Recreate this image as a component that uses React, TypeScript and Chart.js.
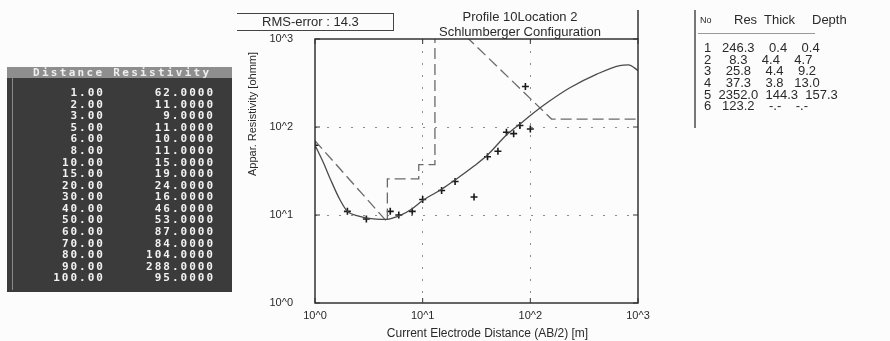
import { useEffect, useRef } from "react";
import { Chart, registerables } from "chart.js";

Chart.register(...registerables);

// Field measurements: half electrode spacing AB/2 [m] and apparent resistivity [ohm m]
const distances = [1, 2, 3, 5, 6, 8, 10, 15, 20, 30, 40, 50, 60, 70, 80, 90, 100];
const resistivities = [62, 11, 9, 11, 10, 11, 15, 19, 24, 16, 46, 53, 87, 84, 104, 288, 95];

// Computed apparent-resistivity curve of the fitted model
const modelAB2 = [1, 1.2, 1.4, 1.7, 2, 2.5, 3, 3.7, 4.6, 5.5, 6.2, 8, 10, 15, 20, 30, 40, 60, 80, 100, 142, 233, 415, 677, 815, 1000];
const modelRho = [62, 39, 25, 15, 11, 9.8, 9.3, 9.0, 8.9, 9.4, 9.9, 11.8, 14.6, 19.6, 25, 36, 48, 81, 108, 135, 187, 279, 399, 499, 508, 440];

// Layered earth model
const layerNo = [1, 2, 3, 4, 5, 6];
const layerRes = [246.3, 8.3, 25.8, 37.3, 2352.0, 123.2];
const layerThick = [0.4, 4.4, 4.4, 3.8, 144.3];
const layerDepth = [0.4, 4.7, 9.2, 13.0, 157.3];

const rmsError = 14.3;
const titleLines = ["Profile 10Location 2", "Schlumberger Configuration"];
const decadeTicks = [1, 10, 100, 1000];
const xTitle = "Current Electrode Distance (AB/2) [m]";
const yTitle = "Appar. Resistivity [ohmm]";

const SANS = '"Liberation Sans", Arial, sans-serif';
const INK = "#2a2a2a";

// Model outline as drawn by the inversion program
const modelSteps = [
  { x: layerDepth[0], y: layerRes[0] },
  { x: layerDepth[1], y: layerRes[1] },
  { x: layerDepth[1], y: layerRes[2] },
  { x: layerDepth[2], y: layerRes[2] },
  { x: layerDepth[2], y: layerRes[3] },
  { x: layerDepth[3], y: layerRes[3] },
  { x: layerDepth[3], y: layerRes[4] },
  { x: layerDepth[4], y: layerRes[5] },
  { x: decadeTicks[decadeTicks.length - 1], y: layerRes[5] },
];

const framePlugin = {
  id: "frame",
  afterDraw(chart: any) {
    const { ctx, chartArea: a, scales } = chart;
    ctx.save();
    ctx.strokeStyle = "#333";
    ctx.lineWidth = 1.5;
    ctx.strokeRect(a.left, a.top, a.right - a.left, a.bottom - a.top);
    ctx.beginPath();
    ctx.moveTo(a.right, 10);
    ctx.lineTo(a.right, a.top);
    ctx.stroke();

    ctx.lineWidth = 1;
    ctx.beginPath();
    decadeTicks.forEach((v) => {
      const x = scales.x.getPixelForValue(v);
      const y = scales.y.getPixelForValue(v);
      ctx.moveTo(x, a.bottom);
      ctx.lineTo(x, a.bottom - 5);
      ctx.moveTo(x, a.top);
      ctx.lineTo(x, a.top + 5);
      ctx.moveTo(a.left, y);
      ctx.lineTo(a.left + 5, y);
      ctx.moveTo(a.right, y);
      ctx.lineTo(a.right - 5, y);
    });
    ctx.stroke();

    ctx.fillStyle = INK;
    ctx.font = `12px ${SANS}`;
    ctx.textAlign = "center";
    ctx.textBaseline = "middle";
    ctx.fillText(xTitle, (a.left + a.right) / 2 + 11, 334);
    ctx.translate(a.left - 62, 114);
    ctx.rotate(-Math.PI / 2);
    ctx.font = `11px ${SANS}`;
    ctx.fillText(yTitle, 0, 0);
    ctx.restore();
  },
};

const expLabel = (v: any) => "10^" + Math.round(Math.log10(Number(v)));

function ResistivityChart() {
  const ref = useRef<HTMLCanvasElement | null>(null);

  useEffect(() => {
    if (!ref.current) return;
    const gridColor = (c: any) =>
      c.tick && (c.tick.value === decadeTicks[0] || c.tick.value === decadeTicks[decadeTicks.length - 1])
        ? "rgba(0,0,0,0)"
        : "#8a8a8a";

    const chart = new Chart(ref.current, {
      type: "scatter",
      data: {
        datasets: [
          {
            label: "model curve",
            data: modelAB2.map((x, i) => ({ x, y: modelRho[i] })),
            showLine: true,
            borderColor: "#4a4a4a",
            borderWidth: 1.3,
            pointRadius: 0,
            cubicInterpolationMode: "monotone",
          },
          {
            label: "layers",
            data: modelSteps,
            showLine: true,
            borderColor: "#6a6a6a",
            borderWidth: 1.3,
            borderDash: [11, 5],
            pointRadius: 0,
            tension: 0,
          },
          {
            label: "field data",
            data: distances.map((x, i) => ({ x, y: resistivities[i] })),
            showLine: false,
            pointStyle: "cross",
            pointRadius: 3.5,
            borderColor: "#1a1a1a",
            borderWidth: 1.6,
          },
        ],
      } as any,
      options: {
        animation: false,
        responsive: false,
        maintainAspectRatio: false,
        devicePixelRatio: 1,
        layout: { padding: { left: 240, right: 252, top: 39, bottom: 0 } },
        plugins: { legend: { display: false }, tooltip: { enabled: false } },
        scales: {
          x: {
            type: "logarithmic",
            min: 1,
            max: 1000,
            afterBuildTicks: (s: any) => {
              s.ticks = decadeTicks.map((value) => ({ value }));
            },
            afterFit: (s: any) => {
              s.height = 38;
            },
            ticks: {
              callback: expLabel,
              color: INK,
              font: { family: SANS, size: 11 },
              padding: 6,
              maxRotation: 0,
              autoSkip: false,
            },
            grid: { drawTicks: false, color: gridColor, lineWidth: 1 },
            border: { display: false, dash: [2, 10] },
          },
          y: {
            type: "logarithmic",
            min: 1,
            max: 1000,
            afterBuildTicks: (s: any) => {
              s.ticks = decadeTicks.map((value) => ({ value }));
            },
            afterFit: (s: any) => {
              s.width = 75;
            },
            ticks: {
              callback: expLabel,
              color: INK,
              font: { family: SANS, size: 11 },
              padding: 22,
              autoSkip: false,
            },
            grid: { drawTicks: false, color: gridColor, lineWidth: 1 },
            border: { display: false, dash: [2, 10] },
          },
        },
      } as any,
      plugins: [framePlugin],
    });
    return () => chart.destroy();
  }, []);

  return (
    <canvas
      ref={ref}
      width={890}
      height={341}
      style={{ position: "absolute", left: 0, top: 0, width: 890, height: 341 }}
    />
  );
}

function DataPanel() {
  const mono = '"DejaVu Sans Mono", monospace';
  const rowH = 11.56;
  const colStyle: any = {
    position: "absolute",
    top: 26 - rowH / 2,
    textAlign: "right",
    lineHeight: `${rowH}px`,
    whiteSpace: "pre",
  };
  return (
    <div
      style={{
        position: "absolute",
        left: 7,
        top: 67,
        width: 225,
        height: 225,
        background: "#3b3b3b",
        color: "#f2f2f2",
        fontFamily: mono,
        fontWeight: "bold",
        fontSize: 11,
        letterSpacing: 2,
      }}
    >
      <div
        style={{
          position: "absolute",
          left: 0,
          top: 0,
          width: 225,
          height: 11,
          background: "#8e8e8e",
          lineHeight: "11px",
          letterSpacing: 2.3,
          paddingLeft: 26,
          boxSizing: "border-box",
          color: "#eeeeee",
          whiteSpace: "pre",
        }}
      >
        Distance Resistivity
      </div>
      <div style={{ position: "absolute", left: 5, top: 11, width: 1, height: 212, background: "#8a8a8a" }} />
      <div style={{ ...colStyle, left: 0, width: 98 }}>
        {distances.map((d) => (
          <div key={d}>{d.toFixed(2)}</div>
        ))}
      </div>
      <div style={{ ...colStyle, left: 100, width: 108 }}>
        {resistivities.map((r, i) => (
          <div key={i}>{r.toFixed(4)}</div>
        ))}
      </div>
    </div>
  );
}

function LayerTable() {
  const rowH = 11.66;
  const rows = layerNo.map((n, i) => {
    const res = layerRes[i].toFixed(1).padStart(6);
    const th = i < layerThick.length ? layerThick[i].toFixed(1) : "-.-";
    const dp = i < layerDepth.length ? layerDepth[i].toFixed(1) : "-.-";
    return `${n}  ${res}  ${th.padStart(5)}  ${dp.padStart(5)}`;
  });
  const head = (text: string, left: number, size: number) => (
    <span style={{ position: "absolute", left, top: 13, fontSize: size, lineHeight: "14px", whiteSpace: "pre" }}>
      {text}
    </span>
  );
  return (
    <div style={{ position: "absolute", left: 0, top: 0, fontFamily: SANS, color: INK }}>
      <div style={{ position: "absolute", left: 694, top: 10, width: 2, height: 118, background: "#777" }} />
      {head("No", 700, 9)}
      {head("Res", 734, 13)}
      {head("Thick", 764, 13)}
      {head("Depth", 812, 13)}
      <div style={{ position: "absolute", left: 698, top: 33, width: 117, height: 1, background: "#999" }} />
      <div
        style={{
          position: "absolute",
          left: 704,
          top: 48 - rowH / 2,
          fontSize: 13,
          lineHeight: `${rowH}px`,
          whiteSpace: "pre",
        }}
      >
        {rows.map((r, i) => (
          <div key={i}>{r}</div>
        ))}
      </div>
    </div>
  );
}

function TitleBlock() {
  return (
    <div style={{ position: "absolute", left: 0, top: 0, fontFamily: SANS, color: INK, fontSize: 13 }}>
      <div style={{ position: "absolute", left: 237, top: 13, width: 157, height: 0, borderTop: "1px solid #444" }} />
      <div style={{ position: "absolute", left: 237, top: 30, width: 157, height: 0, borderTop: "1px solid #444" }} />
      <div style={{ position: "absolute", left: 393, top: 13, width: 0, height: 17, borderLeft: "1px solid #444" }} />
      <div style={{ position: "absolute", left: 262, top: 14, lineHeight: "16px", whiteSpace: "pre" }}>
        {`RMS-error : ${rmsError.toFixed(1)}`}
      </div>
      <div style={{ position: "absolute", left: 420, width: 200, top: 9, lineHeight: "15px", textAlign: "center" }}>
        <div>{titleLines[0]}</div>
        <div>{titleLines[1]}</div>
      </div>
    </div>
  );
}

export default function App() {
  return (
    <div
      style={{
        position: "fixed",
        left: 0,
        top: 0,
        width: 890,
        height: 341,
        background: "#fcfcfc",
        overflow: "hidden",
      }}
    >
      <ResistivityChart />
      <DataPanel />
      <TitleBlock />
      <LayerTable />
    </div>
  );
}
